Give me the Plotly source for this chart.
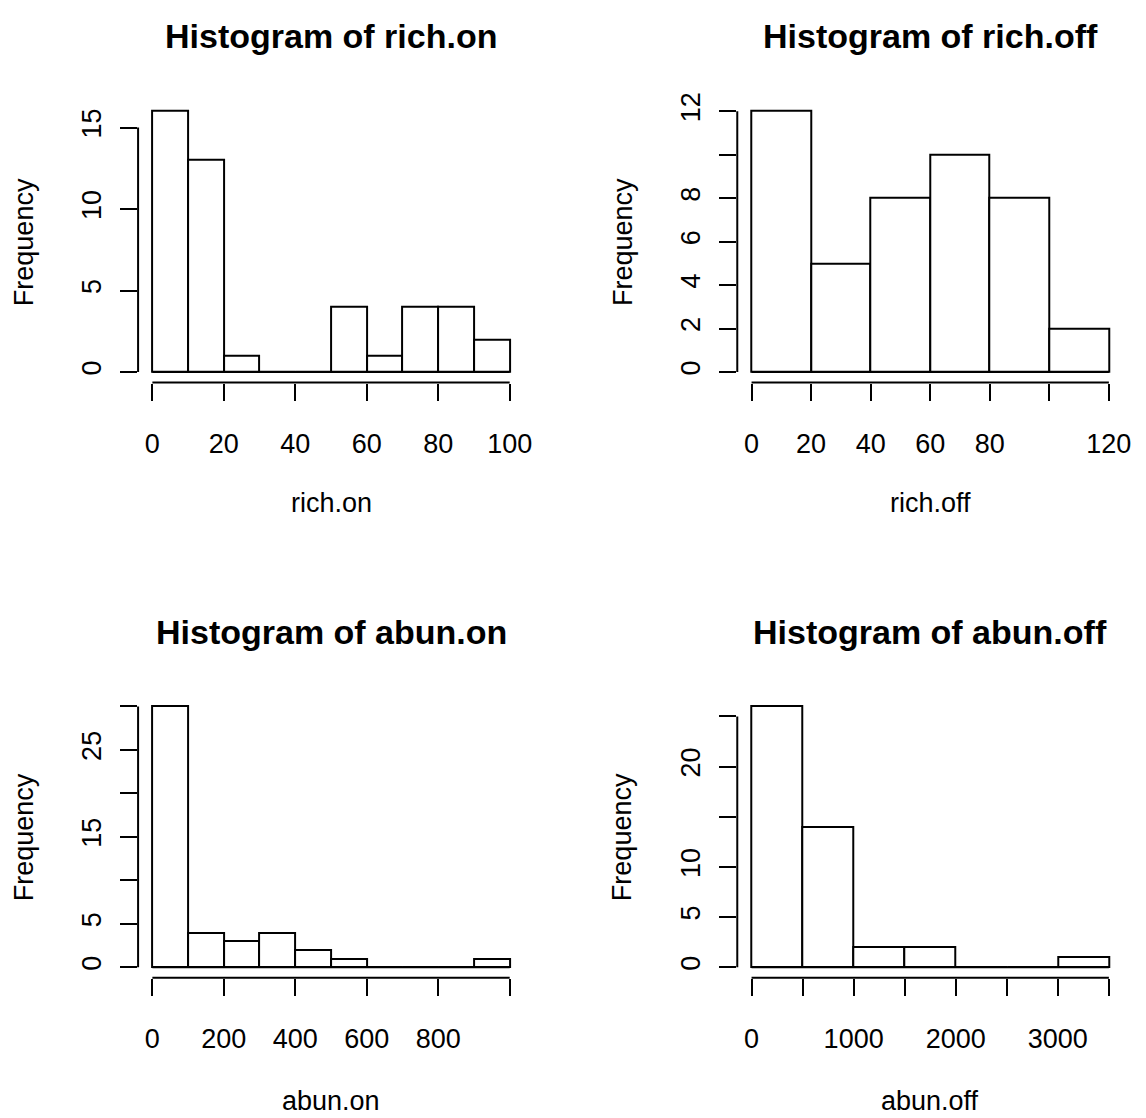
import plotly.graph_objects as go

rich_on_breaks = [0, 10, 20, 30, 40, 50, 60, 70, 80, 90, 100]
rich_on_counts = [16, 13, 1, 0, 0, 4, 1, 4, 4, 2]
rich_on_xticks = [0, 20, 40, 60, 80, 100]
rich_on_xlabels = ['0', '20', '40', '60', '80', '100']
rich_on_yticks = [0, 5, 10, 15]
rich_on_ylabels = ['0', '5', '10', '15']

rich_off_breaks = [0, 20, 40, 60, 80, 100, 120]
rich_off_counts = [12, 5, 8, 10, 8, 2]
rich_off_xticks = [0, 20, 40, 60, 80, 100, 120]
rich_off_xlabels = ['0', '20', '40', '60', '80', '', '120']
rich_off_yticks = [0, 2, 4, 6, 8, 10, 12]
rich_off_ylabels = ['0', '2', '4', '6', '8', '', '12']

abun_on_breaks = [0, 100, 200, 300, 400, 500, 600, 700, 800, 900, 1000]
abun_on_counts = [30, 4, 3, 4, 2, 1, 0, 0, 0, 1]
abun_on_xticks = [0, 200, 400, 600, 800, 1000]
abun_on_xlabels = ['0', '200', '400', '600', '800', '']
abun_on_yticks = [0, 5, 10, 15, 20, 25, 30]
abun_on_ylabels = ['0', '5', '', '15', '', '25', '']

abun_off_breaks = [0, 500, 1000, 1500, 2000, 2500, 3000, 3500]
abun_off_counts = [26, 14, 2, 2, 0, 0, 1]
abun_off_xticks = [0, 500, 1000, 1500, 2000, 2500, 3000, 3500]
abun_off_xlabels = ['0', '', '1000', '', '2000', '', '3000', '']
abun_off_yticks = [0, 5, 10, 15, 20, 25]
abun_off_ylabels = ['0', '5', '10', '', '20', '']

W, H = 1146, 1118
FONT = 'Liberation Sans, Arial, sans-serif'
# the page body has an 8px margin, so figure pixels = page pixels - 8
OFF = 8

# page-pixel boxes of the plot regions (left, right) and (top, bottom)
cols = [(139, 527.6), (742.4, 1131)]
rows = [(92.5, 376.5), (692.5, 976.5)]
row_step, col_step = 600, 603

panels = [
    ('rich.on', rich_on_breaks, rich_on_counts, rich_on_xticks,
     rich_on_xlabels, rich_on_yticks, rich_on_ylabels, 0, 0),
    ('rich.off', rich_off_breaks, rich_off_counts, rich_off_xticks,
     rich_off_xlabels, rich_off_yticks, rich_off_ylabels, 1, 0),
    ('abun.on', abun_on_breaks, abun_on_counts, abun_on_xticks,
     abun_on_xlabels, abun_on_yticks, abun_on_ylabels, 0, 1),
    ('abun.off', abun_off_breaks, abun_off_counts, abun_off_xticks,
     abun_off_xlabels, abun_off_yticks, abun_off_ylabels, 1, 1),
]


def px(xp):
    return (xp - OFF) / W


def py(yp):
    return 1 - (yp - OFF) / H


fig = go.Figure()
layout = {}
shapes = []
annotations = []

for i, (name, breaks, counts, xt, xl, yt, yl, c, r) in enumerate(panels):
    n = '' if i == 0 else str(i + 1)
    xa, ya = 'x' + n, 'y' + n
    mids = [(breaks[k] + breaks[k + 1]) / 2 for k in range(len(counts))]
    widths = [breaks[k + 1] - breaks[k] for k in range(len(counts))]

    fig.add_trace(go.Bar(
        x=mids, y=counts, width=widths, xaxis=xa, yaxis=ya,
        marker=dict(color='white', line=dict(color='black', width=2)),
        showlegend=False, hoverinfo='x+y'))
    # baseline so that empty bins still show as a line at zero
    fig.add_trace(go.Scatter(
        x=[breaks[0], breaks[-1]], y=[0, 0], xaxis=xa, yaxis=ya,
        mode='lines', line=dict(color='black', width=2),
        showlegend=False, hoverinfo='skip'))

    # R extends the ranges by 4% on each side
    xspan = breaks[-1] - breaks[0]
    ymax = max(counts)
    left, right = cols[c]
    top, bottom = rows[r]

    tickfont = dict(family=FONT, size=27, color='black')
    layout['xaxis' + n] = dict(
        domain=[px(left), px(right)],
        range=[breaks[0] - 0.04 * xspan, breaks[-1] + 0.04 * xspan],
        anchor=ya, showgrid=False, zeroline=False, showline=False,
        tickmode='array', tickvals=xt, ticktext=xl,
        ticks='outside', ticklen=17, tickwidth=2, tickcolor='black',
        ticklabelstandoff=20, tickfont=tickfont)
    layout['yaxis' + n] = dict(
        domain=[py(bottom), py(top)],
        range=[-0.04 * ymax, ymax * 1.04],
        anchor=xa, showgrid=False, zeroline=False, showline=False,
        tickmode='array', tickvals=yt, ticktext=yl, tickangle=-90,
        ticks='outside', ticklen=17, tickwidth=2, tickcolor='black',
        ticklabelstandoff=8, tickfont=tickfont)

    # R style axis lines running from first to last tick
    shapes.append(dict(type='line', xref=xa, yref=ya + ' domain',
                       x0=xt[0], x1=xt[-1], y0=0, y1=0,
                       line=dict(color='black', width=2)))
    shapes.append(dict(type='line', xref=xa + ' domain', yref=ya,
                       x0=0, x1=0, y0=yt[0], y1=yt[-1],
                       line=dict(color='black', width=2)))

    cx = px((left + right) / 2)
    annotations.append(dict(
        text='<b>Histogram of %s</b>' % name, xref='paper', yref='paper',
        x=cx, y=py(27.5 + row_step * r), xanchor='center', yanchor='middle',
        showarrow=False, font=dict(family=FONT, size=34, color='black')))
    annotations.append(dict(
        text=name, xref='paper', yref='paper',
        x=cx, y=py(497.5 + 603 * r), xanchor='center', yanchor='middle',
        showarrow=False, font=dict(family=FONT, size=27, color='black')))
    annotations.append(dict(
        text='Frequency', xref='paper', yref='paper', textangle=-90,
        x=px(23.6 + col_step * c), y=py((top + bottom) / 2),
        xanchor='center', yanchor='middle',
        showarrow=False, font=dict(family=FONT, size=27, color='black')))

fig.update_layout(
    width=W, height=H, margin=dict(l=0, r=0, t=0, b=0),
    paper_bgcolor='white', plot_bgcolor='white',
    bargap=0, shapes=shapes, annotations=annotations, **layout)

fig.write_html('out.html')
